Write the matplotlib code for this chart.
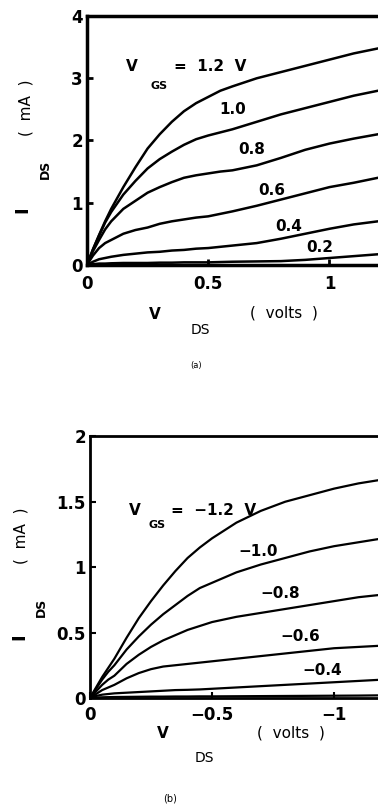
import matplotlib
matplotlib.use('Agg')
import matplotlib.pyplot as plt

# ---- data ----
# (a) n-channel: V_DS (volts) vs I_DS (mA) for each V_GS
vds_a = [0, 0.025, 0.05, 0.075, 0.1, 0.15, 0.2, 0.25, 0.3, 0.35, 0.4, 0.45, 0.5,
         0.55, 0.6, 0.7, 0.8, 0.9, 1.0, 1.1, 1.2]
ids_a_12 = [0, 0.25, 0.48, 0.70, 0.90, 1.25, 1.57, 1.87, 2.10, 2.30, 2.47, 2.60, 2.70,
            2.80, 2.87, 3.00, 3.10, 3.20, 3.30, 3.40, 3.48]
ids_a_10 = [0, 0.25, 0.47, 0.68, 0.85, 1.13, 1.35, 1.55, 1.70, 1.82, 1.93, 2.02, 2.08,
            2.13, 2.18, 2.30, 2.42, 2.52, 2.62, 2.72, 2.80]
ids_a_08 = [0, 0.22, 0.40, 0.57, 0.70, 0.90, 1.03, 1.16, 1.25, 1.33, 1.40, 1.44, 1.47,
            1.50, 1.52, 1.60, 1.72, 1.85, 1.95, 2.03, 2.10]
ids_a_06 = [0, 0.15, 0.27, 0.35, 0.40, 0.50, 0.56, 0.60, 0.66, 0.70, 0.73, 0.76, 0.78,
            0.82, 0.86, 0.95, 1.05, 1.15, 1.25, 1.32, 1.40]
ids_a_04 = [0, 0.05, 0.09, 0.11, 0.13, 0.16, 0.18, 0.20, 0.21, 0.23, 0.24, 0.26, 0.27,
            0.29, 0.31, 0.35, 0.42, 0.50, 0.58, 0.65, 0.70]
ids_a_02 = [0, 0.01, 0.02, 0.02, 0.025, 0.03, 0.03, 0.03, 0.035, 0.035, 0.04, 0.04, 0.04,
            0.045, 0.05, 0.055, 0.06, 0.08, 0.11, 0.14, 0.17]
curves_a = [ids_a_12, ids_a_10, ids_a_08, ids_a_06, ids_a_04, ids_a_02]
labels_a = ['1.0', '0.8', '0.6', '0.4', '0.2']
label_pos_a = [(0.60, 2.50), (0.68, 1.85), (0.76, 1.20), (0.83, 0.62), (0.96, 0.28)]

# (b) p-channel
vds_b = [0, -0.025, -0.05, -0.075, -0.1, -0.15, -0.2, -0.25, -0.3, -0.35, -0.4, -0.45,
         -0.5, -0.6, -0.7, -0.8, -0.9, -1.0, -1.1, -1.2]
ids_b_12 = [0, 0.08, 0.16, 0.23, 0.30, 0.46, 0.61, 0.74, 0.86, 0.97, 1.07, 1.15,
            1.22, 1.34, 1.43, 1.50, 1.55, 1.60, 1.64, 1.67]
ids_b_10 = [0, 0.07, 0.14, 0.20, 0.25, 0.37, 0.47, 0.56, 0.64, 0.71, 0.78, 0.84,
            0.88, 0.96, 1.02, 1.07, 1.12, 1.16, 1.19, 1.22]
ids_b_08 = [0, 0.05, 0.10, 0.14, 0.17, 0.26, 0.33, 0.39, 0.44, 0.48, 0.52, 0.55,
            0.58, 0.62, 0.65, 0.68, 0.71, 0.74, 0.77, 0.79]
ids_b_06 = [0, 0.03, 0.06, 0.08, 0.10, 0.15, 0.19, 0.22, 0.24, 0.25, 0.26, 0.27,
            0.28, 0.30, 0.32, 0.34, 0.36, 0.38, 0.39, 0.40]
ids_b_04 = [0, 0.015, 0.025, 0.03, 0.035, 0.04, 0.045, 0.05, 0.055, 0.06, 0.062, 0.065,
            0.07, 0.08, 0.09, 0.10, 0.11, 0.12, 0.13, 0.14]
ids_b_02 = [0, 0.003, 0.005, 0.006, 0.007, 0.008, 0.009, 0.01, 0.01, 0.011, 0.011, 0.012,
            0.012, 0.013, 0.014, 0.015, 0.016, 0.017, 0.018, 0.02]
curves_b = [ids_b_12, ids_b_10, ids_b_08, ids_b_06, ids_b_04, ids_b_02]
labels_b = ['\u22121.0', '\u22120.8', '\u22120.6', '\u22120.4']
label_pos_b = [(-0.69, 1.12), (-0.78, 0.80), (-0.86, 0.47), (-0.95, 0.21)]

plt.rcParams['font.family'] = ['DejaVu Sans']
plt.rcParams['font.weight'] = 'bold'

fig = plt.figure(figsize=(3.78, 8.05), dpi=100)

# ---- panel (a) ----
ax1 = fig.add_axes([0.230, 0.671, 0.77, 0.309])
for c in curves_a:
    ax1.plot(vds_a, c, color='black', lw=1.8)
ax1.set_xlim(0, 1.2)
ax1.set_ylim(0, 4)
ax1.set_xticks([0, 0.5, 1])
ax1.set_xticklabels(['0', '0.5', '1'])
ax1.set_yticks([0, 1, 2, 3, 4])
for s in ['left', 'bottom', 'top']:
    ax1.spines[s].set_linewidth(2.5)
ax1.spines['right'].set_visible(False)
ax1.tick_params(direction='in', length=4, width=2, labelsize=12, pad=3)
ax1.tick_params(axis='x', pad=7)

ax1.text(0.16, 3.12, 'V', fontsize=11)
ax1.text(0.26, 2.82, 'GS', fontsize=8)
ax1.text(0.36, 3.12, '=  1.2  V', fontsize=11)
for txt, (x, y) in zip(labels_a, label_pos_a):
    ax1.text(x, y, txt, fontsize=11, ha='center', va='center')

fig.text(0.41, 0.609, 'V', fontsize=11, ha='center', va='center')
fig.text(0.53, 0.590, 'DS', fontsize=10, ha='center', va='center', weight='normal')
fig.text(0.75, 0.611, '(  volts  )', fontsize=11, ha='center', va='center', weight='normal')
fig.text(0.52, 0.546, '(a)', fontsize=6, ha='center', va='center', weight='normal')

fig.text(0.06, 0.740, 'I', fontsize=13, rotation=90, ha='center', va='center')
fig.text(0.12, 0.790, 'DS', fontsize=9, rotation=90, ha='center', va='center')
fig.text(0.07, 0.866, '(  mA  )', fontsize=11, rotation=90, ha='center', va='center', weight='normal')

# ---- panel (b) ----
ax2 = fig.add_axes([0.238, 0.133, 0.762, 0.325])
for c in curves_b:
    ax2.plot(vds_b, c, color='black', lw=1.6)
ax2.set_xlim(0, -1.18)
ax2.set_ylim(0, 2)
ax2.set_xticks([0, -0.5, -1])
ax2.set_xticklabels(['0', '\u22120.5', '\u22121'])
ax2.set_yticks([0, 0.5, 1, 1.5, 2])
ax2.set_yticklabels(['0', '0.5', '1', '1.5', '2'])
for s in ['left', 'bottom', 'top']:
    ax2.spines[s].set_linewidth(2)
ax2.spines['right'].set_visible(False)
ax2.tick_params(direction='in', length=4, width=1.5, labelsize=12, pad=3)
ax2.tick_params(axis='x', pad=6)

ax2.text(-0.16, 1.40, 'V', fontsize=11)
ax2.text(-0.24, 1.30, 'GS', fontsize=8)
ax2.text(-0.33, 1.40, '=  \u22121.2  V', fontsize=11)
for txt, (x, y) in zip(labels_b, label_pos_b):
    ax2.text(x, y, txt, fontsize=11, ha='center', va='center')

fig.text(0.43, 0.089, 'V', fontsize=11, ha='center', va='center')
fig.text(0.54, 0.058, 'DS', fontsize=10, ha='center', va='center', weight='normal')
fig.text(0.77, 0.089, '(  volts  )', fontsize=11, ha='center', va='center', weight='normal')
fig.text(0.45, 0.008, '(b)', fontsize=7, ha='center', va='center', weight='normal')

fig.text(0.05, 0.209, 'I', fontsize=13, rotation=90, ha='center', va='center')
fig.text(0.11, 0.246, 'DS', fontsize=9, rotation=90, ha='center', va='center')
fig.text(0.055, 0.335, '(  mA  )', fontsize=11, rotation=90, ha='center', va='center', weight='normal')

fig.savefig('out.png', dpi=100, facecolor='white')
